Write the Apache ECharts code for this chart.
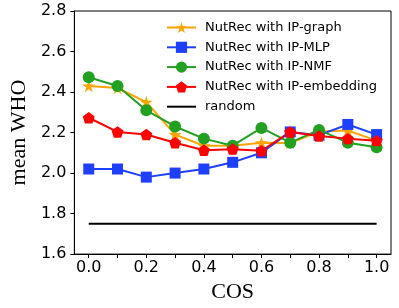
<!DOCTYPE html>
<html><head><meta charset="utf-8">
<script src="https://cdn.jsdelivr.net/npm/echarts@6/dist/echarts.min.js"></script>
<style>html,body{margin:0;padding:0;background:#fff}#c{width:399px;height:308px}</style>
</head><body><div id="c"></div>
<script>
const cosValues = [0.0, 0.1, 0.2, 0.3, 0.4, 0.5, 0.6, 0.7, 0.8, 0.9, 1.0];
const ipGraph = [2.43, 2.42, 2.35, 2.19, 2.135, 2.135, 2.15, 2.148, 2.205, 2.21, 2.16];
const ipMLP = [2.02, 2.02, 1.98, 2.0, 2.02, 2.053, 2.10, 2.203, 2.187, 2.24, 2.19];
const ipNMF = [2.473, 2.43, 2.31, 2.23, 2.17, 2.135, 2.223, 2.15, 2.213, 2.15, 2.127];
const ipEmbedding = [2.273, 2.203, 2.19, 2.15, 2.113, 2.118, 2.11, 2.203, 2.183, 2.17, 2.16];
const randomVals = [1.75, 1.75, 1.75, 1.75, 1.75, 1.75, 1.75, 1.75, 1.75, 1.75, 1.75];
const xLabelTicks = [0.0, 0.2, 0.4, 0.6, 0.8, 1.0];
const xMinorTicks = [0.0, 0.1, 0.2, 0.3, 0.4, 0.5, 0.6, 0.7, 0.8, 0.9, 1.0];
const seriesNames = ['NutRec with IP-graph', 'NutRec with IP-MLP', 'NutRec with IP-NMF', 'NutRec with IP-embedding', 'random'];

const STAR = 'path://M0,-100 L22.45,-30.9 L95.1,-30.9 L36.33,11.8 L58.8,80.9 L0,38.2 L-58.8,80.9 L-36.33,11.8 L-95.1,-30.9 L-22.45,-30.9 Z';
const PENT = 'path://M0,-100 L95.1,-30.9 L58.8,80.9 L-58.8,80.9 L-95.1,-30.9 Z';

function pairs(vals){ return cosValues.map((x,i)=>[x, vals[i]]); }
function mk(name, vals, color, symbol, size){
  return {name, type:'line', data:pairs(vals), symbol, symbolSize:size, symbolKeepAspect:true,
    lineStyle:{color, width:2}, itemStyle:{color}, animation:false};
}
const chart = echarts.init(document.getElementById('c'), null, {renderer:'canvas'});
chart.setOption({
  animation:false,
  grid:{left:64, right:8, top:11, bottom:52, show:true, borderColor:'#000', borderWidth:1},
  legend:{orient:'vertical', left:166, top:21, padding:0, itemWidth:29, itemHeight:14, itemGap:6.8,
    textStyle:{fontFamily:'DejaVu Sans', fontSize:13, color:'#000', padding:[0,0,0,4]},
    data:[seriesNames[0], seriesNames[1], seriesNames[2], seriesNames[3],
      {name:seriesNames[4], itemStyle:{color:'rgba(0,0,0,0)', opacity:0}}]},
  xAxis:{type:'value', min:-0.05, max:1.05,
    name:'COS', nameLocation:'middle', nameGap:23,
    nameTextStyle:{fontFamily:'Liberation Serif', fontSize:22, color:'#000'},
    axisLine:{show:true, onZero:false, lineStyle:{color:'#000', width:1}},
    axisTick:{show:true, inside:false, length:4, customValues:xMinorTicks, lineStyle:{color:'#000'}},
    axisLabel:{customValues:xLabelTicks, formatter:v=>Number(v).toFixed(1), fontFamily:'DejaVu Sans', fontSize:16, color:'#000', margin:6},
    splitLine:{show:false}},
  yAxis:{type:'value', min:1.6, max:2.8, interval:0.2,
    name:'mean WHO', nameLocation:'middle', nameGap:38,
    nameTextStyle:{fontFamily:'Liberation Serif', fontSize:22, color:'#000'},
    axisLine:{show:true, onZero:false, lineStyle:{color:'#000', width:1}},
    axisTick:{show:true, inside:false, length:4, lineStyle:{color:'#000'}},
    axisLabel:{formatter:v=>Number(v).toFixed(1), fontFamily:'DejaVu Sans', fontSize:16, color:'#000', margin:8},
    splitLine:{show:false}},
  series:[
    mk(seriesNames[0], ipGraph, '#ffa500', STAR, 13),
    mk(seriesNames[1], ipMLP, '#1f3fff', 'rect', 11),
    mk(seriesNames[2], ipNMF, '#22a022', 'circle', 12),
    mk(seriesNames[3], ipEmbedding, '#ff0000', PENT, 12),
    {name:seriesNames[4], type:'line', data:pairs(randomVals), symbol:'none', lineStyle:{color:'#000', width:2}, itemStyle:{color:'#000'}}
  ]
});
</script></body></html>
